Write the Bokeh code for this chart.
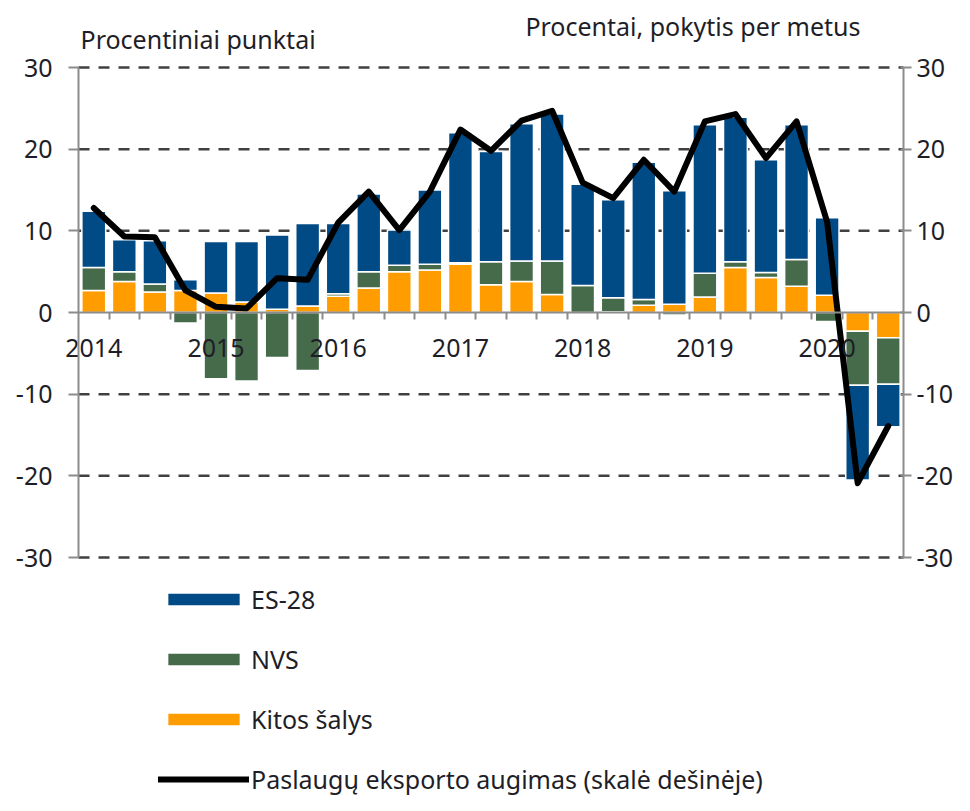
from bokeh.plotting import figure
from bokeh.models import (ColumnDataSource, Range1d, FixedTicker, LinearAxis, Legend,
                          LegendItem, Label)
from bokeh.embed import file_html
from bokeh.resources import INLINE

quarters = ["2014Q1", "2014Q2", "2014Q3", "2014Q4", "2015Q1", "2015Q2", "2015Q3", "2015Q4",
            "2016Q1", "2016Q2", "2016Q3", "2016Q4", "2017Q1", "2017Q2", "2017Q3", "2017Q4",
            "2018Q1", "2018Q2", "2018Q3", "2018Q4", "2019Q1", "2019Q2", "2019Q3", "2019Q4",
            "2020Q1", "2020Q2", "2020Q3"]
year_labels = ["2014", "2015", "2016", "2017", "2018", "2019", "2020"]
y_ticks = [-30, -20, -10, 0, 10, 20, 30]
grid_vals = [-30, -20, -10, 10, 20, 30]

kitos = [2.7, 3.8, 2.5, 2.7, 2.4, 1.3, 0.4, 0.8, 2.0, 3.0, 5.0, 5.2, 5.9, 3.4, 3.8, 2.2,
         0.0, 0.1, 0.9, 1.0, 1.9, 5.5, 4.3, 3.2, 2.1, -2.3, -3.1]
nvs = [2.8, 1.2, 1.0, -1.3, -8.1, -8.4, -5.5, -7.1, 0.3, 2.0, 0.8, 0.7, 0.2, 2.8, 2.5, 4.1,
       3.3, 1.7, 0.7, -0.3, 2.9, 0.7, 0.6, 3.3, -1.1, -6.6, -5.7]
es28 = [6.9, 3.9, 5.3, 1.3, 6.3, 7.4, 9.1, 10.1, 8.6, 9.5, 4.3, 9.1, 15.9, 13.5, 16.8, 18.0,
        12.4, 12.0, 16.8, 13.9, 18.2, 17.7, 13.8, 16.5, 9.5, -11.6, -5.2]
growth = [12.8, 9.3, 9.2, 2.7, 0.7, 0.5, 4.2, 4.0, 11.0, 14.8, 10.1, 14.8, 22.4, 19.8, 23.5,
          24.7, 15.9, 14.0, 18.7, 14.8, 23.4, 24.3, 18.9, 23.4, 11.1, -20.9, -13.9]

C_ES = "#004a85"
C_NVS = "#466b4a"
C_KIT = "#ff9c00"
FONT = "Noto Sans"
TXT = "#1e1e28"
AX = "#8c8c8c"

n = len(quarters)
xs = list(range(n))

# stacking: positives upward, negatives downward
pos = [0.0] * n
neg = [0.0] * n
stacks = {}
for name, vals in [("kitos", kitos), ("nvs", nvs), ("es28", es28)]:
    bots, tops = [], []
    for i, v in enumerate(vals):
        if v >= 0:
            bots.append(pos[i]); tops.append(pos[i] + v); pos[i] += v
        else:
            tops.append(neg[i]); bots.append(neg[i] + v); neg[i] += v
    stacks[name] = ColumnDataSource(dict(x=xs, bottom=bots, top=tops))

W, H = 954, 795
# plotting area in canvas pixels: x 78..903, y 67..557 (30..-30)
PX_L, PX_R, PY_T, PY_B = 78, 903, 67, 557
xu = (PX_R - PX_L) / n
yu = (PY_B - PY_T) / 60.0
x0 = -0.5 - PX_L / xu
x1 = -0.5 + (W - PX_L) / xu
y1 = 30 + PY_T / yu
y0 = -30 - (H - PY_B) / yu

p = figure(width=W, height=H, output_backend="svg", toolbar_location=None,
           x_range=Range1d(x0, x1), y_range=Range1d(y0, y1),
           min_border_left=0, min_border_right=0, min_border_top=0, min_border_bottom=0)
p.outline_line_color = None
p.background_fill_color = "white"
p.border_fill_color = "white"
p.xgrid.visible = False
p.ygrid.visible = False

# dashed gridlines between the two vertical axes
p.segment(x0=[-0.5] * len(grid_vals), x1=[n - 0.5] * len(grid_vals),
          y0=grid_vals, y1=grid_vals, line_color="#404040", line_width=2.5,
          line_dash="11 9")

bar_w = 0.78
renders = {}
for name, col in [("kitos", C_KIT), ("nvs", C_NVS), ("es28", C_ES)]:
    renders[name] = p.vbar(x="x", bottom="bottom", top="top", width=bar_w, source=stacks[name],
                           fill_color=col, line_color="white", line_width=1.5)

line_r = p.line(xs, growth, line_color="black", line_width=6, line_join="round",
                line_cap="round")

hy = {t: str(t) for t in y_ticks}

# x axis at zero
xa = p.xaxis[0]
xa.fixed_location = 0
xa.bounds = (-0.5, n - 0.5)
xa.ticker = FixedTicker(ticks=[i * 4 for i in range(len(year_labels))],
                        minor_ticks=[i + 0.5 for i in range(n - 1)])
xa.major_label_overrides = {i * 4: y for i, y in enumerate(year_labels)}
xa.major_tick_out = 0
xa.major_tick_in = 0
xa.minor_tick_out = 7
xa.minor_tick_in = 0
xa.minor_tick_line_color = AX
xa.minor_tick_line_width = 2
xa.axis_line_color = AX
xa.axis_line_width = 2
xa.major_label_standoff = 19
xa.major_label_text_font = FONT
xa.major_label_text_font_size = "25px"
xa.major_label_text_color = TXT

ya = p.yaxis[0]
ya.fixed_location = -0.5
ya.bounds = (-30, 30)
ya.ticker = FixedTicker(ticks=y_ticks)
ya.major_label_overrides = hy
ya.major_tick_out = 10
ya.major_tick_in = 0
ya.minor_tick_out = 0
ya.minor_tick_in = 0
ya.axis_line_color = AX
ya.axis_line_width = 2
ya.major_tick_line_color = AX
ya.major_tick_line_width = 2
ya.major_label_standoff = 16
ya.major_label_text_font = FONT
ya.major_label_text_font_size = "25px"
ya.major_label_text_color = TXT

ra = LinearAxis(ticker=FixedTicker(ticks=y_ticks), fixed_location=n - 0.5, bounds=(-30, 30))
ra.major_label_overrides = hy
ra.major_tick_out = 8
ra.major_tick_in = 3
ra.minor_tick_out = 0
ra.minor_tick_in = 0
ra.axis_line_color = AX
ra.axis_line_width = 2
ra.major_tick_line_color = AX
ra.major_tick_line_width = 2
ra.major_label_standoff = 5
ra.major_label_text_font = FONT
ra.major_label_text_font_size = "25px"
ra.major_label_text_color = TXT
p.add_layout(ra, "right")

# unit labels (placed in data space just above the top gridline)
p.add_layout(Label(x=-0.5 + 2 / xu, y=30 + (PY_T - 38) / yu, text="Procentiniai punktai",
                   text_font=FONT, text_font_size="25px", text_color=TXT,
                   text_align="left", text_baseline="middle"))
p.add_layout(Label(x=-0.5 + (860 - PX_L) / xu, y=30 + (PY_T - 25) / yu,
                   text="Procentai, pokytis per metus",
                   text_font=FONT, text_font_size="25px", text_color=TXT,
                   text_align="right", text_baseline="middle"))

legend = Legend(items=[
    LegendItem(label="ES-28", renderers=[renders["es28"]]),
    LegendItem(label="NVS", renderers=[renders["nvs"]]),
    LegendItem(label="Kitos šalys", renderers=[renders["kitos"]]),
    LegendItem(label="Paslaugų eksporto augimas (skalė dešinėje)", renderers=[line_r]),
], location=(158, -1), orientation="vertical", padding=0, margin=0,
    border_line_color=None, background_fill_alpha=0,
    glyph_width=91, glyph_height=16, label_standoff=2, spacing=26,
    label_text_font=FONT, label_text_font_size="25px", label_text_color=TXT)
p.add_layout(legend, "center")

open("out.html", "w").write(file_html(p, INLINE))
